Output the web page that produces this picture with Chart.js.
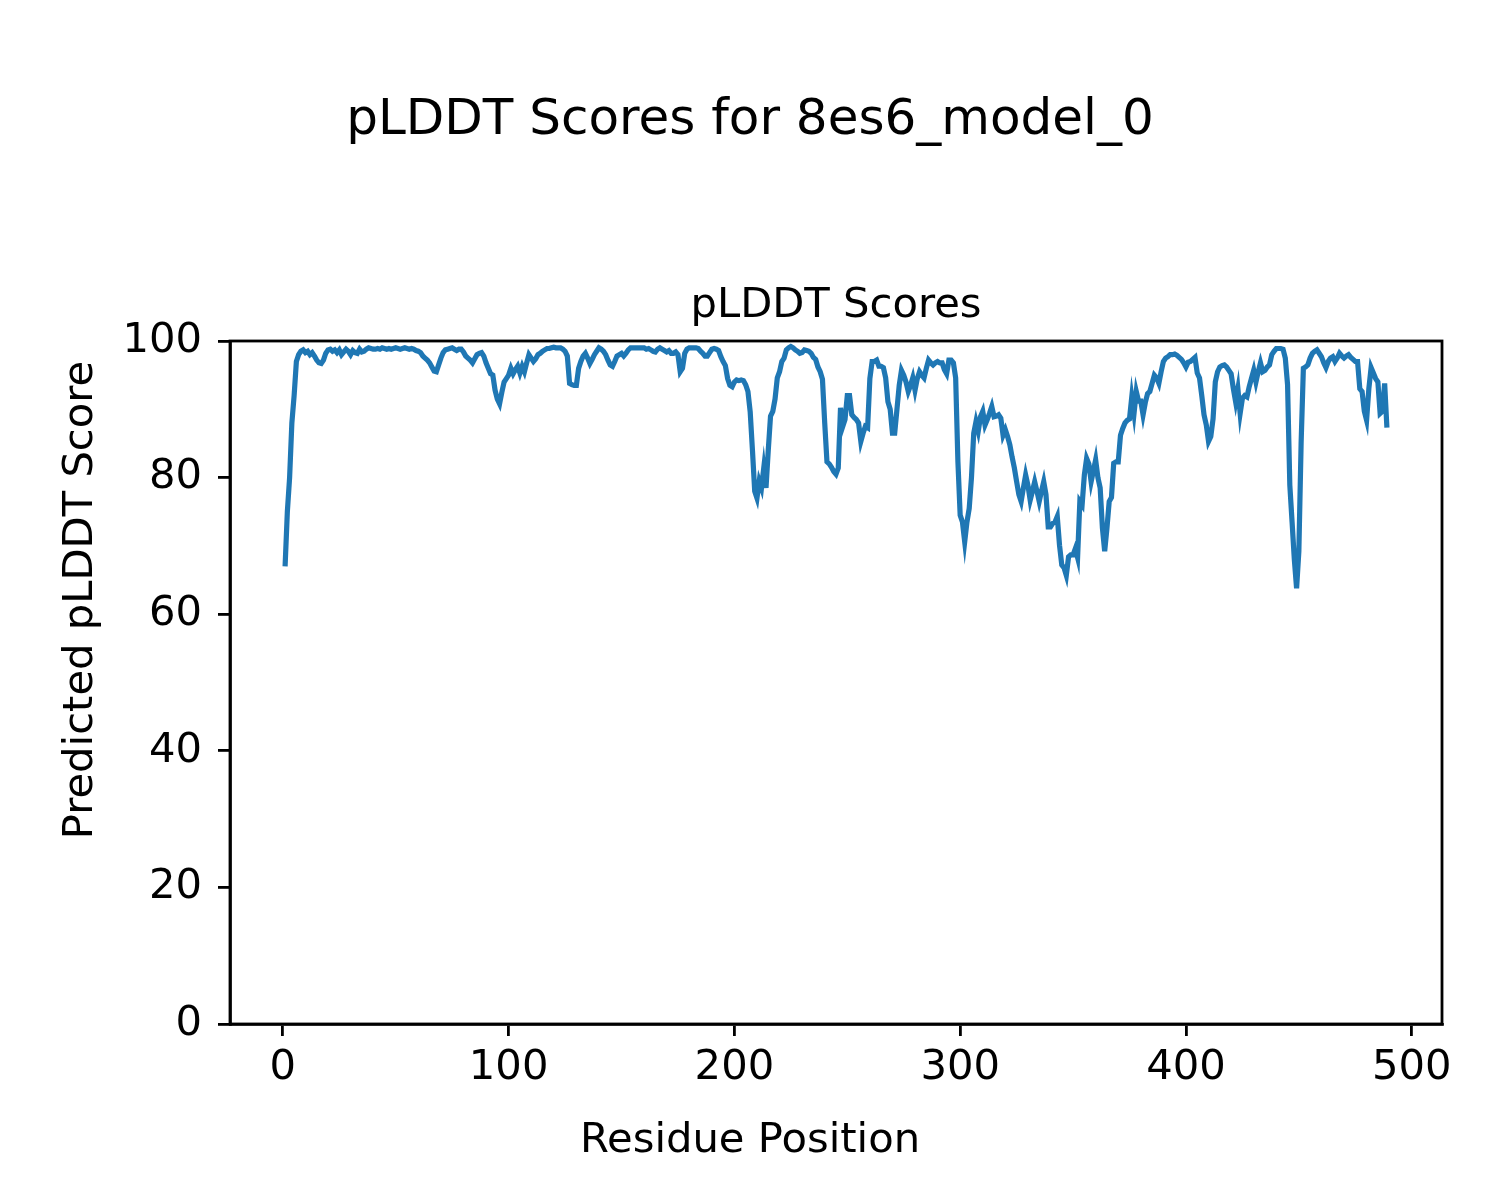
<!DOCTYPE html>
<html>
<head>
<meta charset="utf-8">
<script src="https://cdn.jsdelivr.net/npm/chart.js@4.4.1/dist/chart.umd.min.js"></script>
<style>
html,body{margin:0;padding:0;background:#fff;}
canvas{display:block;}
</style>
</head>
<body>
<canvas id="c" width="1500" height="1200"></canvas>
<script>
const plddt = [
67, 75, 80, 88, 92, 97, 98, 98.5, 98.7, 98.3,
98.5, 98, 98.3, 97.8, 97.2, 96.8, 96.7, 97.2, 98.2, 98.7,
98.8, 98.5, 98.7, 98.3, 98.7, 98, 98.4, 98.8, 98.5, 98,
98.6, 98.3, 98.2, 98.8, 98.4, 98.5, 98.8, 99, 98.9, 98.8,
98.8, 98.9, 98.8, 99, 98.9, 98.8, 98.9, 98.8, 98.9, 99,
98.9, 98.8, 98.9, 99, 98.9, 98.8, 98.9, 98.8, 98.6, 98.5,
98.3, 97.8, 97.5, 97.2, 96.8, 96.2, 95.6, 95.5, 96.5, 97.5,
98.3, 98.7, 98.8, 98.9, 99, 98.8, 98.6, 98.8, 98.8, 98.4,
97.8, 97.5, 97.2, 96.8, 97.4, 98, 98.2, 98.3, 97.8, 96.8,
96, 95.2, 95, 92.8, 91.5, 90.8, 92.5, 94, 94.5, 95,
96, 95.2, 95.8, 96.3, 95.3, 96.3, 95.5, 96.8, 98, 97.5,
97, 97.4, 98, 98.2, 98.5, 98.7, 98.9, 98.9, 99, 99.1,
99, 99, 99, 98.8, 98.5, 97.8, 93.8, 93.6, 93.5, 93.5,
96, 97, 97.8, 98.2, 97.5, 96.7, 97.3, 98, 98.5, 99,
98.8, 98.5, 98, 97.2, 96.5, 96.3, 97, 97.8, 98, 98.2,
97.8, 98.2, 98.7, 99, 99, 99, 99, 99, 99, 99,
98.8, 98.9, 98.7, 98.5, 98.4, 98.8, 99, 98.8, 98.6, 98.4,
98.6, 98.2, 98.2, 98.4, 98, 95.5, 96, 98.2, 98.8, 99,
99, 99, 99, 98.9, 98.5, 98.2, 97.8, 97.8, 98.3, 98.8,
98.9, 98.8, 98.6, 97.7, 97, 96.4, 94.5, 93.5, 93.3, 94,
94.3, 94.2, 94.3, 94.2, 93.6, 92.6, 89.6, 84, 78, 77,
79.5, 78.5, 81.4, 78.5, 84, 89, 89.7, 91.5, 94.6, 95.5,
97, 97.5, 98.7, 99, 99.2, 99, 98.7, 98.5, 98.2, 98.3,
98.7, 98.6, 98.5, 98.2, 97.6, 97.3, 96.2, 95.5, 94.4, 88,
82.3, 82, 81.5, 80.9, 80.5, 81.4, 90.2, 87.5, 88.5, 92,
92, 89.2, 88.8, 88.5, 88, 85.3, 86.5, 87.5, 87.3, 94.5,
97, 97, 97.2, 96.3, 96.3, 96.1, 94.6, 91.1, 90, 86.5,
86.5, 90, 93.5, 95.7, 95, 94, 92.6, 93.5, 94.6, 92.8,
94.5, 95.5, 95, 94.6, 96, 97.2, 96.8, 96.5, 96.8, 97,
96.8, 96.8, 95.8, 95.2, 97.2, 97.2, 96.8, 94.6, 82.3, 74.5,
73.5, 70.6, 73.5, 75.5, 80, 86.5, 88.2, 86.8, 88.9, 89.7,
87.7, 88.5, 89.4, 90.4, 88.9, 89, 89.2, 88.7, 86.2, 87,
86, 84.8, 83, 81.4, 79.4, 77.5, 76.5, 78.5, 80.4, 78.9,
76.7, 78, 79.4, 78, 76.5, 78, 79.4, 77.5, 72.8, 72.8,
73.3, 73.5, 74.3, 70.1, 67.2, 66.8, 65.7, 68.4, 68.7, 68.7,
69.6, 68.3, 76.5, 76, 80.4, 82.8, 82, 79.4, 81, 82.6,
80, 78.5, 72.6, 69.2, 72.6, 76.5, 77.1, 82.1, 82.3, 82.3,
86.2, 87.2, 88, 88.4, 88.6, 91.8, 89.4, 92.6, 91.2, 91.2,
89.2, 91, 92.3, 92.6, 93.8, 95, 94.6, 93.8, 95.5, 97,
97.5, 97.7, 98, 98, 98.1, 97.9, 97.6, 97.3, 96.8, 96.2,
96.9, 97, 97.3, 97.6, 95.3, 94.6, 92, 89.2, 87.7, 85.3,
86, 88.6, 94, 95.5, 96.2, 96.4, 96.5, 96.2, 95.7, 95.2,
93, 91.1, 93, 89.4, 91.6, 92, 91.8, 93.3, 94.5, 95.7,
94, 95.5, 96.8, 95.5, 95.7, 96.2, 96.5, 98, 98.5, 98.9,
98.9, 98.9, 98.8, 97.5, 93.6, 78.9, 73.5, 68, 63.8, 69.2,
85, 96, 96.2, 96.5, 97.5, 98.2, 98.5, 98.7, 98.2, 97.7,
96.8, 96.1, 97, 97.5, 97.7, 97, 97.5, 98.2, 97.8, 97.5,
97.8, 98, 97.6, 97.3, 97, 97, 93, 92.6, 89.7, 88.4,
93, 96.1, 95.3, 94.5, 94, 89.4, 89.7, 93.8, 87.3
];
const residues = plddt.map((_, i) => i + 1);
const xTicks = [0, 100, 200, 300, 400, 500];
const yTicks = [0, 20, 40, 60, 80, 100];
const figTitle = "pLDDT Scores for 8es6_model_0";
const axTitle = "pLDDT Scores";
const xLabel = "Residue Position";
const yLabel = "Predicted pLDDT Score";

const FONT = "'DejaVu Sans', sans-serif";

const textPlugin = {
  id: 'texts',
  afterDraw(chart) {
    const ctx = chart.ctx;
    const a = chart.chartArea;
    ctx.save();
    ctx.strokeStyle = '#000';
    ctx.lineWidth = 2.8;
    ctx.strokeRect(a.left, a.top, a.right - a.left, a.bottom - a.top);
    ctx.fillStyle = '#000';
    ctx.textAlign = 'center';
    ctx.textBaseline = 'alphabetic';
    ctx.font = "50px " + FONT;
    ctx.fillText(figTitle, 750, 134);
    ctx.font = "41.7px " + FONT;
    ctx.fillText(axTitle, (a.left + a.right) / 2, 317);
    ctx.fillText(xLabel, 750, 1152);
    ctx.translate(92, 600);
    ctx.rotate(-Math.PI / 2);
    ctx.fillText(yLabel, 0, 0);
    ctx.restore();
  }
};

const tickFont = { family: FONT, size: 41.7 };

new Chart(document.getElementById('c'), {
  type: 'line',
  data: {
    datasets: [{
      data: residues.map((x, i) => ({ x: x, y: plddt[i] })),
      borderColor: '#1f77b4',
      borderWidth: 5.2,
      pointRadius: 0,
      tension: 0,
      fill: false
    }]
  },
  options: {
    responsive: false,
    animation: false,
    devicePixelRatio: 1,
    layout: { padding: { left: 100, right: 58, top: 341, bottom: 76 } },
    plugins: {
      legend: { display: false },
      tooltip: { enabled: false },
      title: { display: false }
    },
    scales: {
      x: {
        type: 'linear',
        min: -23.4,
        max: 513.4,
        afterBuildTicks: s => { s.ticks = xTicks.map(v => ({ value: v })); },
        afterFit: s => { s.height = 100; },
        grid: { drawOnChartArea: false, drawTicks: true, tickLength: 12, color: '#000', lineWidth: 2.8 },
        border: { display: true, color: '#000', width: 2.8 },
        ticks: { font: tickFont, color: '#000', padding: 7, maxRotation: 0, autoSkip: false }
      },
      y: {
        type: 'linear',
        min: 0,
        max: 100,
        afterBuildTicks: s => { s.ticks = yTicks.map(v => ({ value: v })); },
        afterFit: s => { s.width = 130; },
        grid: { drawOnChartArea: false, drawTicks: true, tickLength: 12, color: '#000', lineWidth: 2.8 },
        border: { display: true, color: '#000', width: 2.8 },
        ticks: { font: tickFont, color: '#000', padding: 16, autoSkip: false }
      }
    }
  },
  plugins: [textPlugin]
});
</script>
</body>
</html>
